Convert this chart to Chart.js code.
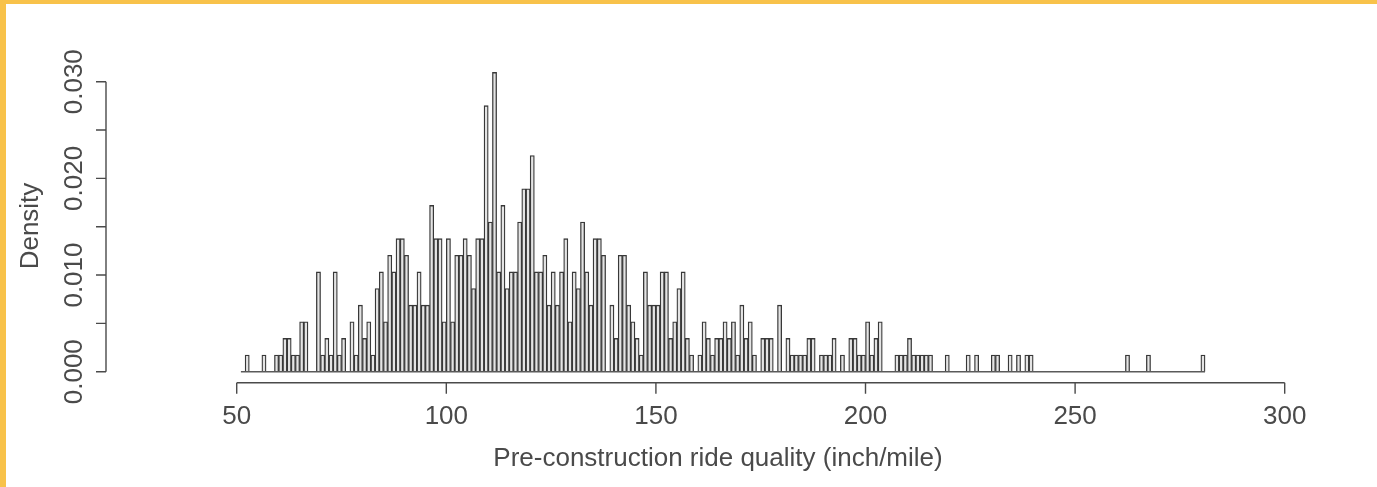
<!DOCTYPE html>
<html>
<head>
<meta charset="utf-8">
<title>Pre-construction ride quality</title>
<script src="https://cdn.jsdelivr.net/npm/chart.js@4.4.0/dist/chart.umd.min.js"></script>
<style>
  html, body { margin: 0; padding: 0; background: #fff; }
  #wrap { width: 1377px; height: 487px; }
</style>
</head>
<body>
<div id="wrap"><canvas id="histChart" width="1377" height="487"></canvas></div>
<script>
// histogram of pre-construction ride quality, 1 inch/mile bins
var binStart = 51;
var binWidth = 1;
var densityPerCount = 0.00172;

var counts = [
    0, 1, 0, 0, 0, 1, 0, 0, 1, 1,        // 51-60
    2, 2, 1, 1, 3, 3, 0, 0, 6, 1,        // 61-70
    2, 1, 6, 1, 2, 0, 3, 1, 4, 2,        // 71-80
    3, 1, 5, 6, 3, 7, 6, 8, 8, 7,        // 81-90
    4, 4, 6, 4, 4, 10, 8, 8, 3, 8,       // 91-100
    3, 7, 7, 8, 7, 5, 8, 8, 16, 9,       // 101-110
    18, 6, 10, 5, 6, 6, 9, 11, 11, 13,   // 111-120
    6, 6, 7, 4, 6, 4, 6, 8, 3, 6,        // 121-130
    5, 9, 6, 4, 8, 8, 7, 0, 4, 2,        // 131-140
    7, 7, 4, 3, 2, 1, 6, 4, 4, 4,        // 141-150
    6, 6, 2, 3, 5, 6, 2, 1, 0, 1,        // 151-160
    3, 2, 1, 2, 2, 3, 2, 3, 1, 4,        // 161-170
    2, 3, 1, 0, 2, 2, 2, 0, 4, 0,        // 171-180
    2, 1, 1, 1, 1, 2, 2, 0, 1, 1,        // 181-190
    1, 2, 0, 1, 0, 2, 2, 1, 1, 3,        // 191-200
    1, 2, 3, 0, 0, 0, 1, 1, 1, 2,        // 201-210
    1, 1, 1, 1, 1, 0, 0, 0, 1, 0,        // 211-220
    0, 0, 0, 1, 0, 1, 0, 0, 0, 1,        // 221-230
    1, 0, 0, 1, 0, 1, 0, 1, 1, 0,        // 231-240
    0, 0, 0, 0, 0, 0, 0, 0, 0, 0,        // 241-250
    0, 0, 0, 0, 0, 0, 0, 0, 0, 0,        // 251-260
    0, 1, 0, 0, 0, 0, 1, 0, 0, 0,        // 261-270
    0, 0, 0, 0, 0, 0, 0, 0, 0, 1         // 271-280
];

var xTicks = [50, 100, 150, 200, 250, 300];
var yTicks = [0, 0.005, 0.010, 0.015, 0.020, 0.025, 0.030];
var yTickLabels = ["0.000", "", "0.010", "", "0.020", "", "0.030"];
var xTitle = "Pre-construction ride quality (inch/mile)";
var yTitle = "Density";

var FONT = "26px 'Liberation Sans', Arial, Helvetica, sans-serif";
var INK = "#4a4a4a";

var histData = [];
for (var i = 0; i < counts.length; i++)
{
    histData.push({
        x: binStart + i * binWidth + binWidth / 2,
        y: counts[i] * densityPerCount
    });
}

// frame strip along the top and left edge
var framePlugin = {
    id: "frame",
    beforeDraw: function (chart) {
        var ctx = chart.ctx;
        ctx.save();
        ctx.fillStyle = "#ffffff";
        ctx.fillRect(0, 0, chart.width, chart.height);
        ctx.fillStyle = "#f8c24a";
        ctx.fillRect(0, 0, chart.width, 4);
        ctx.fillRect(0, 0, 6, chart.height);
        ctx.restore();
    }
};

// base-graphics style axes: detached lines spanning the first to last tick
var rAxesPlugin = {
    id: "rAxes",
    afterDatasetsDraw: function (chart) {
        var ctx = chart.ctx;
        var xs = chart.scales.x;
        var ys = chart.scales.y;
        var area = chart.chartArea;
        var axisY = area.bottom + 11;
        var axisX = 106;
        var y0 = ys.getPixelForValue(0);

        ctx.save();

        // zero line under the bins
        ctx.strokeStyle = "#5a5a5a";
        ctx.lineWidth = 1.5;
        ctx.beginPath();
        ctx.moveTo(xs.getPixelForValue(binStart), y0);
        ctx.lineTo(xs.getPixelForValue(binStart + counts.length * binWidth), y0);
        ctx.stroke();

        ctx.strokeStyle = INK;
        ctx.lineWidth = 1.4;

        // x axis
        ctx.beginPath();
        ctx.moveTo(xs.getPixelForValue(xTicks[0]), axisY);
        ctx.lineTo(xs.getPixelForValue(xTicks[xTicks.length - 1]), axisY);
        xTicks.forEach(function (v) {
            var px = xs.getPixelForValue(v);
            ctx.moveTo(px, axisY);
            ctx.lineTo(px, axisY + 11);
        });
        ctx.stroke();

        ctx.fillStyle = INK;
        ctx.font = FONT;
        ctx.textAlign = "center";
        ctx.textBaseline = "alphabetic";
        xTicks.forEach(function (v) {
            ctx.fillText(String(v), xs.getPixelForValue(v), axisY + 41);
        });

        // y axis
        ctx.beginPath();
        ctx.moveTo(axisX, ys.getPixelForValue(yTicks[0]));
        ctx.lineTo(axisX, ys.getPixelForValue(yTicks[yTicks.length - 1]));
        yTicks.forEach(function (v) {
            var py = ys.getPixelForValue(v);
            ctx.moveTo(axisX, py);
            ctx.lineTo(axisX - 10, py);
        });
        ctx.stroke();

        yTicks.forEach(function (v, k) {
            if (!yTickLabels[k]) return;
            ctx.save();
            ctx.translate(82, ys.getPixelForValue(v));
            ctx.rotate(-Math.PI / 2);
            ctx.fillText(yTickLabels[k], 0, 0);
            ctx.restore();
        });

        // axis titles
        ctx.fillText(xTitle, 718, 466);
        ctx.save();
        ctx.translate(38, 226);
        ctx.rotate(-Math.PI / 2);
        ctx.fillText(yTitle, 0, 0);
        ctx.restore();

        ctx.restore();
    }
};

var histChart = new Chart(document.getElementById("histChart"), {
    type: "bar",
    data: {
        datasets: [{
            label: "Density",
            data: histData,
            backgroundColor: "#e4e4e4",
            borderColor: "#383838",
            borderWidth: 1.3,
            borderSkipped: "start",
            barPercentage: 1,
            categoryPercentage: 1
        }]
    },
    options: {
        responsive: false,
        animation: false,
        devicePixelRatio: 1,
        layout: {
            padding: { left: 194.8, right: 92.3, top: 62.4, bottom: 115.3 }
        },
        scales: {
            x: { type: "linear", min: 40, max: 300, offset: false, display: false },
            y: { type: "linear", min: 0, max: 0.032, display: false }
        },
        plugins: {
            legend: { display: false },
            tooltip: { enabled: false }
        }
    },
    plugins: [framePlugin, rAxesPlugin]
});
</script>
</body>
</html>
